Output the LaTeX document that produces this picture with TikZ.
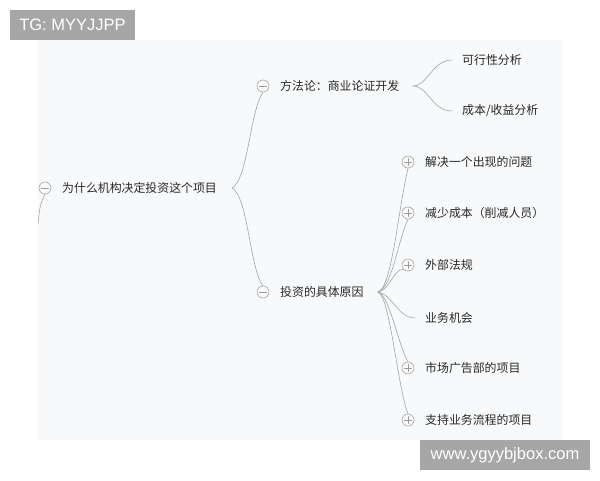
\documentclass[tikz,border=0pt]{standalone}
\usepackage{fontspec}
\setmainfont{Noto Sans CJK SC}
\newfontfamily\markfont{Liberation Sans}
\definecolor{panelbg}{RGB}{248,249,250}
\definecolor{linkgray}{RGB}{160,166,164}
\definecolor{txtgray}{RGB}{40,40,40}
\definecolor{markgray}{RGB}{166,166,166}
\begin{document}
\begin{tikzpicture}[x=1pt, y=-1pt, line cap=round, line join=round,
  font=\fontsize{11.9}{13}\selectfont, text=txtgray,
  topic/.style={anchor=west, inner sep=0pt},
  fold/.style={circle, draw=gray!70, line width=0.6pt, minimum size=12pt, inner sep=0pt},
  foldminus/.style={fold, path picture={\draw[gray!80, line width=0.6pt] ([xshift=-3.5pt]path picture bounding box.center)--([xshift=3.5pt]path picture bounding box.center);}},
  foldplus/.style={fold, path picture={\draw[gray!80, line width=0.6pt] ([xshift=-3.5pt]path picture bounding box.center)--([xshift=3.5pt]path picture bounding box.center) ([yshift=-3.5pt]path picture bounding box.center)--([yshift=3.5pt]path picture bounding box.center);}},
  link/.style={draw=linkgray, line width=0.6pt},
  stamp/.style={fill=markgray, text=white, font=\markfont\fontsize{16.5}{18}\selectfont, inner sep=0pt}]
\useasboundingbox (0,0) rectangle (600,480);
\fill[panelbg] (38,40) rectangle (562,440);

% root
\node[foldminus] (rootc) at (45,188) {};
\node[topic] (root) at (62,188) {为什么机构决定投资这个项目};
\coordinate (rootin) at (38,224);
\coordinate (rootout) at (232,188);
\draw[link] (rootin) .. controls (40,205) .. (rootc.south);

% first branch
\node[foldminus] (methc) at (263,86) {};
\node[topic] (meth) at (280,86) {方法论：商业论证开发};
\coordinate (methout) at (413,86);
\node[topic] (feas) at (462,60) {可行性分析};
\node[topic] (cost) at (462,111) {成本/收益分析};
\draw[link] (rootout) .. controls (248,180) and (250,110) .. (methc.south);
\draw[link] (methout) .. controls (428,86) and (432,60) .. ([xshift=-10pt]feas.west);
\draw[link] (methout) .. controls (428,86) and (432,111) .. ([xshift=-10pt]cost.west);

% second branch
\node[foldminus] (whyc) at (263,292) {};
\node[topic] (why) at (280,292) {投资的具体原因};
\coordinate (whyout) at (378,292);
\draw[link] (rootout) .. controls (248,196) and (250,270) .. (whyc.north);

\node[foldplus] (r1c) at (408,162) {};
\node[topic] (r1) at (425,162) {解决一个出现的问题};
\node[foldplus] (r2c) at (408,213) {};
\node[topic] (r2) at (425,213) {减少成本（削减人员）};
\node[foldplus] (r3c) at (408,265) {};
\node[topic] (r3) at (425,265) {外部法规};
\node[topic] (r4) at (425,318) {业务机会};
\node[foldplus] (r5c) at (408,368) {};
\node[topic] (r5) at (425,368) {市场广告部的项目};
\node[foldplus] (r6c) at (408,420) {};
\node[topic] (r6) at (425,420) {支持业务流程的项目};

\draw[link] (whyout) .. controls (392,288) and (398,210) .. (r1c.south);
\draw[link] (whyout) .. controls (392,288) and (398,240) .. (r2c.south);
\draw[link] (whyout) .. controls (390,290) and (394,268) .. (r3c.south west);
\draw[link] (whyout) .. controls (392,294) and (398,318) .. ([xshift=-10pt]r4.west);
\draw[link] (whyout) .. controls (390,296) and (398,345) .. (r5c.north);
\draw[link] (whyout) .. controls (390,296) and (398,390) .. (r6c.north);

% watermarks
\node[stamp, minimum width=125pt, minimum height=30pt] (tg) at (72.5,25) {TG: MYYJJPP};
\node[stamp, minimum width=170pt, minimum height=30pt] (site) at (505,455) {www.ygyybjbox.com};
\end{tikzpicture}
\end{document}
